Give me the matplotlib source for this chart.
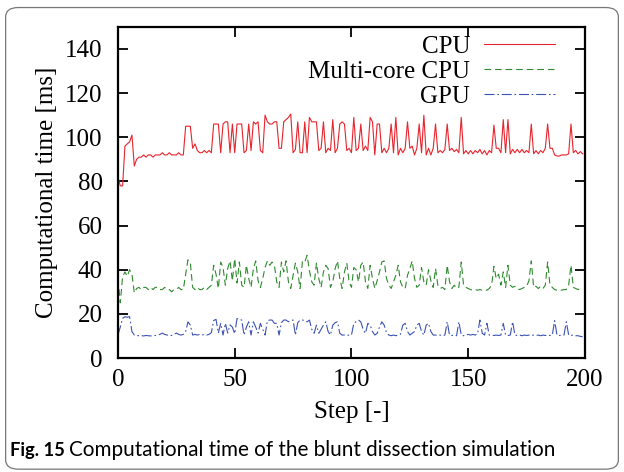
import matplotlib
matplotlib.use("Agg")
import matplotlib.pyplot as plt
import numpy as np
from matplotlib.patches import FancyBboxPatch

# computational time per step [ms]
cpu = [
    82, 78, 78, 96, 97, 98, 101, 87, 90, 91,
    91, 92, 91, 92, 92, 91, 92, 92, 92, 93,
    92, 92, 93, 92, 92, 92, 93, 92, 92,
    105, 105, 105, 95, 97, 94, 93, 93, 94, 93, 94, 93,
    106, 106, 106, 93, 106, 107, 107, 93, 106, 93,
    106, 106, 106, 93, 94, 106, 94, 107, 106, 107,
    94, 93, 110, 107, 106, 106,
    107, 107, 95, 95, 107, 108, 109, 110.5, 93, 94.5,
    107, 93, 93, 107, 93, 109, 107, 107, 107, 94,
    95, 107, 93, 95, 94, 108, 93, 95, 106, 107,
    106, 94, 95, 93, 109, 94, 95, 106, 94, 96,
    94, 109, 107, 92, 106, 106, 93, 95, 93, 95,
    106, 93, 109, 92, 95, 93, 95, 107, 95, 96,
    92, 95, 106, 93, 110, 92, 95, 92, 95,
    106, 93, 94, 93, 94.5, 106, 94, 95, 93.5, 94.5,
    93, 109, 92.5, 94, 92.5, 94, 92.5, 94, 93, 94.5,
    92.5, 94, 92, 94, 93, 105.5, 95, 95, 93, 108,
    93, 108, 92.5, 94.5, 93, 94.5, 93, 94.5, 93, 94,
    93, 106, 92.5, 94, 92.5, 94, 93, 95, 106, 95,
    95, 92, 91.5, 91.5, 92, 92, 92, 92.5, 106, 93,
    94, 92.5, 93.5, 92.5,
]

multi = [
    36, 25, 37, 39, 37, 40, 38, 29.5, 31.5, 32,
    31, 32, 32, 31, 32, 31, 32, 32, 31, 31,
    32, 31, 31, 30, 31, 31, 32, 31, 31,
    38, 44.5, 43, 32, 31, 32, 31, 31, 32, 31, 32, 33,
    42, 38, 31.5, 43.5, 41, 33, 40.5, 44, 35, 45,
    34, 43.5, 33, 32, 42, 36, 32, 40.5, 44, 35,
    32, 36, 41, 44, 42, 43.5,
    42, 34.5, 32, 43.5, 39, 44, 34.5, 31.5, 37.5, 43,
    39, 31.5, 44, 43.5, 46.5, 39.5, 34.5, 33, 43, 36,
    32, 39, 42, 40.5, 32, 34.5, 40.5, 44, 36, 31.5,
    39, 43, 34.5, 32, 41, 40, 34.5, 42, 43.5, 34.5,
    31.5, 42, 36, 31.5, 35, 39, 43.5, 44, 36, 33,
    31.5, 34.5, 37.5, 42, 34.5, 32, 31.5, 37.5, 40.5, 44,
    36, 32, 33, 41, 34.5, 33, 40, 35, 32,
    40.5, 33, 31.5, 32, 31, 42, 34.5, 31.5, 33, 31.5,
    32, 43.5, 33, 32, 31.5, 31, 30.7, 31, 30.7, 31,
    30.7, 31, 30.7, 31.5, 33, 41.5, 36, 38, 33, 39,
    32, 42, 33, 32, 32.5, 31.5, 31, 31.5, 32, 32.5,
    35, 44, 32, 32.5, 31.5, 32.5, 31.5, 33, 43.5, 33,
    32, 31, 30.7, 31, 30.7, 31, 31, 33, 42, 32,
    31.5, 31, 31.5, 31.5,
]

gpu = [
    10.4, 14, 18, 18.7, 18.5, 18.7, 12, 10.4, 10.2, 10.1,
    10.1, 10, 10.2, 10.1, 10, 10.1, 10.2, 10.4, 10.7,
    11.3, 10.7, 10.4, 10.4, 10.2, 10.7, 11.3, 10.7, 10.4, 10.7,
    12, 16.4, 14.9, 10.4, 10.7, 10.4, 10.7, 10.4, 10.7, 10.4, 10.7, 11.5,
    17, 17.5, 11.3, 15.7, 10.4, 15.7, 11.3, 15, 14, 11,
    17.9, 17.5, 17.2, 10.4, 14, 16.4, 10.4, 16.4, 14, 11.3,
    15.7, 13, 10.4, 16.9, 17.2, 17.2,
    15.7, 15.7, 10.4, 16, 17.2, 17.2, 16.4, 17, 17.2, 10.4,
    16, 17.2, 17.2, 17, 16.4, 17.2, 13, 11.2, 14.9, 11.2,
    13, 14.9, 16.4, 12, 10.4, 14.9, 16, 16.4, 11.2, 10.4,
    10.4, 10.2, 10.4, 10.4, 15.7, 16.5, 17.2, 16.4, 13, 11.2,
    15.7, 14.9, 12, 10.4, 11.2, 14, 16.4, 14.9, 11.5, 10.4,
    10.1, 10.4, 10.1, 10.4, 10.8, 14.9, 15.7, 12, 10.4, 11.2,
    12, 14.9, 15.7, 12, 10.4, 14.9, 15.7, 12, 10.4,
    10.4, 10.2, 10.4, 10.1, 10.4, 16.4, 10.4, 10.2, 10.4, 10.1,
    16.4, 10.4, 10.1, 10.4, 10.7, 10.4, 10.7, 10.4, 11, 17.2,
    11.2, 10.4, 15.7, 10.4, 10.4, 10.2, 10.4, 10.2, 10.4, 15.7,
    10.4, 10.2, 10.4, 16.4, 10.4, 10.2, 10.4, 10.1, 10.4, 10.2,
    10.4, 10.1, 10.4, 10.2, 10.4, 10.1, 10.4, 10.2, 10.4, 10.2,
    10.4, 16.9, 10.4, 10.2, 10.4, 10.4, 16.4, 10.4, 10.2, 10.4,
    10.1, 10.1, 9.8, 9.6,
]

steps = np.arange(len(cpu))
xticks = [0, 50, 100, 150, 200]
yticks = [0, 20, 40, 60, 80, 100, 120, 140]

serif = ["Liberation Serif", "DejaVu Serif"]
plt.rcParams["font.family"] = serif

fig = plt.figure(figsize=(6.24, 4.72), dpi=100)
ax = fig.add_axes([0.189, 0.2415, 0.7485, 0.7015])

ax.plot(steps, cpu, color="#e8242c", lw=0.8, label="CPU")
ax.plot(steps, multi, color="#2f8a2f", lw=0.8, ls=(0, (6, 3.5)), label="Multi-core CPU")
ax.plot(steps, gpu, color="#3c52b4", lw=0.8, ls=(0, (9, 2.5, 1.5, 2.5)), label="GPU")

ax.set_xlim(0, 200)
ax.set_ylim(0, 150)
ax.set_xticks(xticks)
ax.set_yticks(yticks)
ax.tick_params(direction="in", length=7, width=1.3, top=True, right=True,
               labelsize=18)
ax.tick_params(axis="y", pad=11)
ax.tick_params(axis="x", pad=8)
for sp in ax.spines.values():
    sp.set_linewidth(1.6)

ax.set_xlabel("Step [-]", fontsize=18, labelpad=7)
ax.set_ylabel("Computational time [ms]", fontsize=18, labelpad=5)

leg = ax.legend(loc="upper right", bbox_to_anchor=(0.936, 0.975),
                frameon=False, markerfirst=False,
                fontsize=18, handlelength=2.85, handletextpad=0.55,
                labelspacing=0.1, borderaxespad=0, borderpad=0)

# caption and rounded frame of the figure panel
cap_font = ["Lato", "DejaVu Sans"]
fig.text(0.016, 0.034, "Fig. 15", fontsize=13.2, fontweight="bold",
         family=cap_font, va="baseline")
fig.text(0.11, 0.034, "Computational time of the blunt dissection simulation",
         fontsize=14.9, family=cap_font, va="baseline")
fig.patches.append(FancyBboxPatch((0.009, 0.006), 0.982, 0.978,
                                  boxstyle="round,pad=0,rounding_size=0.02",
                                  transform=fig.transFigure, fill=False,
                                  ec="#777777", lw=0.9))

fig.savefig("out.png", dpi=100)
